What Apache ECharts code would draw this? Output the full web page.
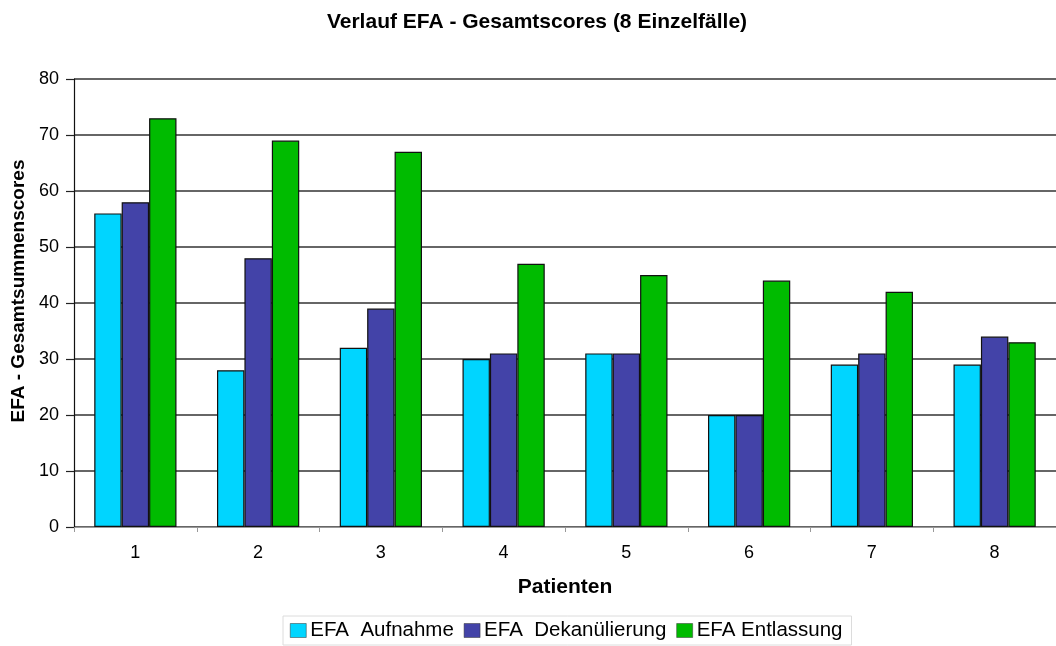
<!DOCTYPE html>
<html>
<head>
<meta charset="utf-8">
<script src="https://cdn.jsdelivr.net/npm/echarts@6/dist/echarts.min.js"></script>
<style>
  html, body { margin: 0; padding: 0; background: #fff; }
  #chart { width: 1056px; height: 646px; }
</style>
</head>
<body>
<div id="chart"></div>
<script>
// Patients (category axis)
const patients = ['1', '2', '3', '4', '5', '6', '7', '8'];

// EFA total scores per patient at the three time points
const efaAufnahme = [56, 28, 32, 30, 31, 20, 29, 29];
const efaDekanuelierung = [58, 48, 39, 31, 31, 20, 31, 34];
const efaEntlassung = [73, 69, 67, 47, 45, 44, 42, 33];

const seriesNames = ['EFA  Aufnahme', 'EFA  Dekanülierung', 'EFA Entlassung'];
const seriesColors = ['#00D5FF', '#4343A8', '#00BB00'];

const font = 'Liberation Sans, Arial, Helvetica, sans-serif';

const chart = echarts.init(document.getElementById('chart'), null, { renderer: 'canvas' });

function barSeries(name, data, color) {
  return {
    name: name,
    type: 'bar',
    data: data,
    barGap: '0%',
    barCategoryGap: '33%',
    itemStyle: { color: color, borderColor: '#111', borderWidth: 1.2 },
    emphasis: { disabled: true }
  };
}

chart.setOption({
  animation: false,
  backgroundColor: '#fff',
  title: {
    text: 'Verlauf EFA - Gesamtscores (8 Einzelfälle)',
    left: 532,
    textAlign: 'center',
    top: 7,
    textStyle: { fontFamily: font, fontSize: 21, fontWeight: 'bold', color: '#000' }
  },
  legend: {
    left: 283,
    top: 616,
    padding: [4, 9, 4, 7],
    borderColor: '#dcdcdc',
    borderWidth: 1,
    itemWidth: 16,
    itemHeight: 14,
    itemGap: 10,
    icon: 'rect',
    textStyle: { fontFamily: font, fontSize: 20.5, color: '#000', padding: [0, 0, 0, -1] },
    itemStyle: { borderColor: '#333', borderWidth: 0.5 },
    data: seriesNames
  },
  grid: {
    left: 74,
    top: 79,
    width: 989,
    height: 448,
    containLabel: false
  },
  xAxis: {
    type: 'category',
    data: patients,
    name: 'Patienten',
    nameLocation: 'middle',
    nameGap: 50,
    nameTextStyle: { fontFamily: font, fontSize: 21, fontWeight: 'bold', color: '#000' },
    axisLine: { lineStyle: { color: '#999', width: 1 } },
    axisTick: { show: true, length: 5, lineStyle: { color: '#999' } },
    axisLabel: { fontFamily: font, fontSize: 18, color: '#000', margin: 17 }
  },
  yAxis: {
    type: 'value',
    min: 0,
    max: 80,
    interval: 10,
    name: 'EFA - Gesamtsummenscores',
    nameLocation: 'middle',
    nameRotate: 90,
    nameGap: 44,
    nameTextStyle: { fontFamily: font, fontSize: 19, fontWeight: 'bold', color: '#000', padding: [0, 0, 0, 24] },
    axisLine: { show: true, lineStyle: { color: '#111', width: 1.2 } },
    axisTick: { show: true, length: 8, lineStyle: { color: '#222', width: 1.2 } },
    axisLabel: { fontFamily: font, fontSize: 18, color: '#000', margin: 15 },
    splitLine: { show: true, lineStyle: { color: '#333', width: 1.5 } }
  },
  series: [
    barSeries(seriesNames[0], efaAufnahme, seriesColors[0]),
    barSeries(seriesNames[1], efaDekanuelierung, seriesColors[1]),
    barSeries(seriesNames[2], efaEntlassung, seriesColors[2])
  ]
});
</script>
</body>
</html>
